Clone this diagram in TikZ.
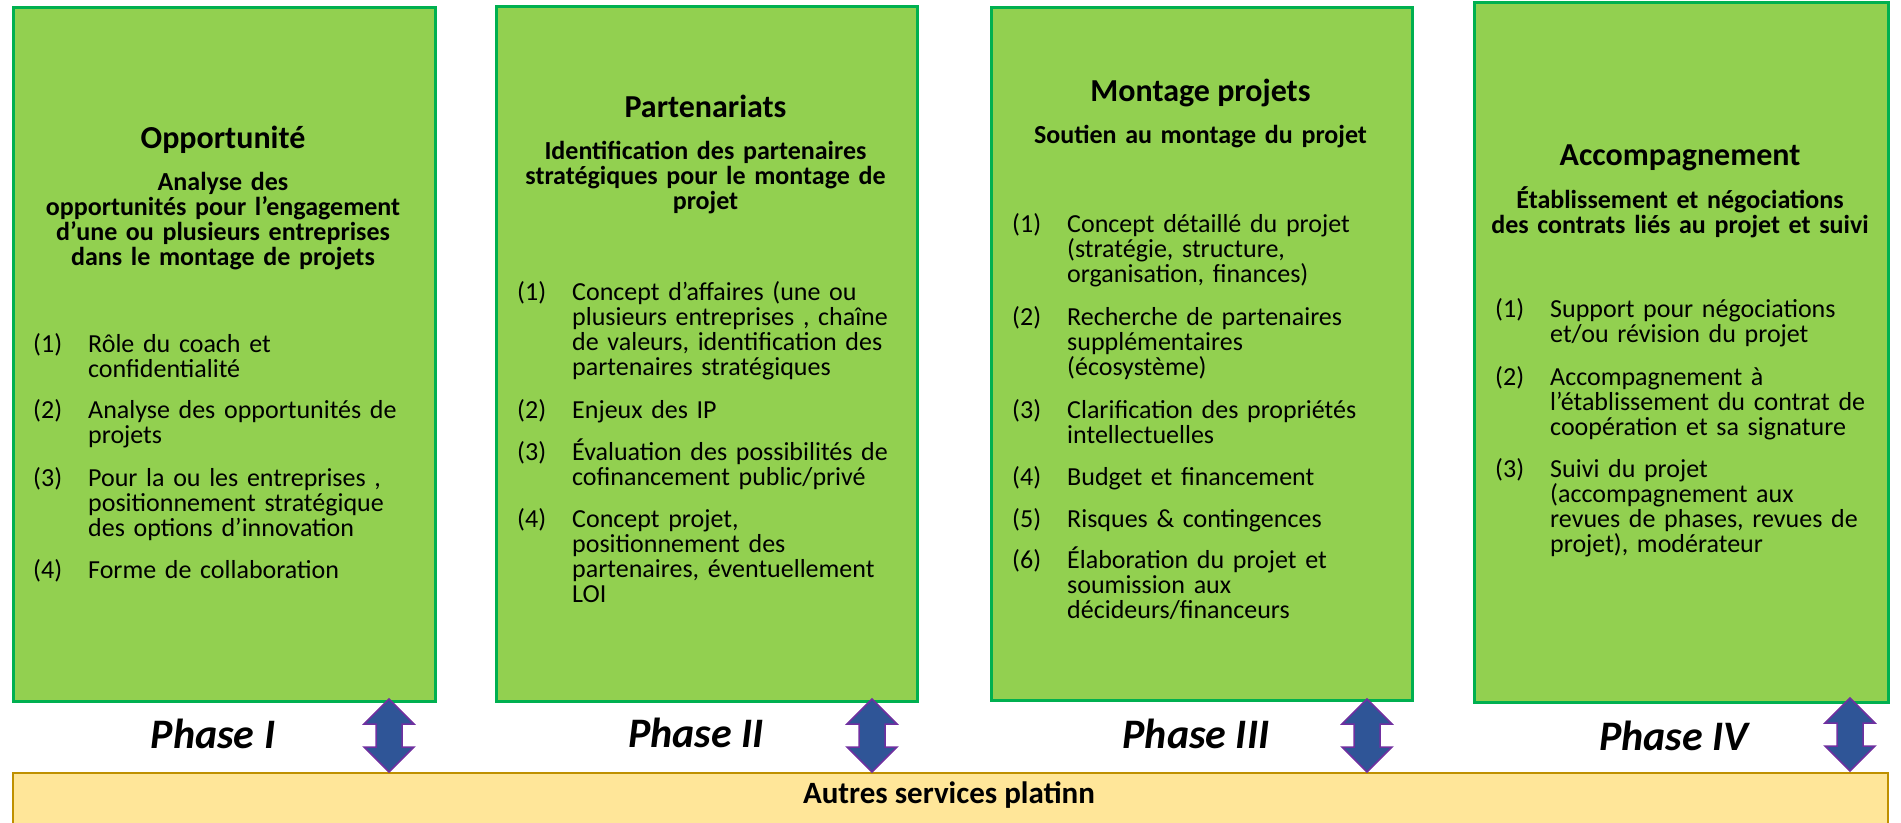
\documentclass[tikz,border=0pt]{standalone}
\usepackage{fontspec}
\setmainfont{Carlito}
\usetikzlibrary{calc}
\definecolor{gfill}{HTML}{92D050}
\definecolor{gline}{HTML}{00B050}
\definecolor{yfill}{HTML}{FFE699}
\definecolor{yline}{HTML}{BF9000}
\definecolor{afill}{HTML}{2F5597}
\definecolor{aline}{HTML}{7030A0}
\tikzset{
  dblarrow/.pic={\draw[blockarrow] (0,-36.5) -- (25,-11.5) -- (13,-11.5) -- (13,11.5) -- (25,11.5) -- (0,36.5) -- (-25,11.5) -- (-13,11.5) -- (-13,-11.5) -- (-25,-11.5) -- cycle;}
}
\begin{document}
\begin{tikzpicture}[x=1pt,y=-1pt,
  greenbox/.style={draw=gline, fill=gfill, line width=2.5pt, inner sep=0pt, anchor=north west},
  ttl/.style={font=\bfseries\fontsize{32}{36}\selectfont, anchor=base, inner sep=0pt},
  subttl/.style={font=\bfseries\fontsize{26}{25.3}\selectfont, anchor=base, inner sep=0pt, align=center, text width=440pt},
  num/.style={font=\fontsize{26}{25.3}\selectfont, anchor=base west, inner sep=0pt},
  itemtxt/.style={font=\fontsize{26}{25.3}\selectfont, anchor=base west, inner sep=0pt, align=left, text width=380pt},
  phase/.style={font=\bfseries\itshape\fontsize{42}{48}\selectfont, anchor=base, inner sep=0pt},
  blockarrow/.style={draw=aline, fill=afill, line width=1.5pt, line join=miter},
  barbox/.style={draw=yline, fill=yfill, line width=1.5pt, inner sep=0pt, anchor=north west},
  bartxt/.style={font=\bfseries\fontsize{31}{36}\selectfont, anchor=base, inner sep=0pt},
]
\useasboundingbox (0,0) rectangle (1901,822);

% boxes
\node[greenbox, minimum width=422pt, minimum height=694pt] (b1) at (12,6) {};
\node[greenbox, minimum width=421pt, minimum height=695pt] (b2) at (495,5) {};
\node[greenbox, minimum width=421pt, minimum height=693pt] (b3) at (990,6) {};
\node[greenbox, minimum width=414pt, minimum height=700pt] (b4) at (1473,1) {};

% bottom bar
\node[barbox, minimum width=1875pt, minimum height=70pt] (bar) at (12,772) {};
\node[bartxt] (bart) at (949,803) {Autres services platinn};

% Box 1
\node[ttl] (t1) at (223,148) {Opportunité};
\node[subttl] (s1) at (223,190) {Analyse des\\opportunités pour l’engagement\\d’une ou plusieurs entreprises\\dans le montage de projets};
\node[num] (n11) at (33,352) {(1)};
\node[itemtxt] (i11) at (88,352) {Rôle du coach et\\confidentialité};
\node[num] (n12) at (33,418) {(2)};
\node[itemtxt] (i12) at (88,418) {Analyse des opportunités de\\projets};
\node[num] (n13) at (33,486) {(3)};
\node[itemtxt] (i13) at (88,486) {Pour la ou les entreprises ,\\positionnement stratégique\\des options d’innovation};
\node[num] (n14) at (33,578) {(4)};
\node[itemtxt] (i14) at (88,578) {Forme de collaboration};

% Box 2
\node[ttl] (t2) at (705.5,117) {Partenariats};
\node[subttl] (s2) at (705.5,159) {Identification des partenaires\\stratégiques pour le montage de\\projet};
\node[num] (n21) at (517,300) {(1)};
\node[itemtxt] (i21) at (572,300) {Concept d’affaires (une ou\\plusieurs entreprises , chaîne\\de valeurs, identification des\\partenaires stratégiques};
\node[num] (n22) at (517,418) {(2)};
\node[itemtxt] (i22) at (572,418) {Enjeux des IP};
\node[num] (n23) at (517,460) {(3)};
\node[itemtxt] (i23) at (572,460) {Évaluation des possibilités de\\cofinancement public/privé};
\node[num] (n24) at (517,527) {(4)};
\node[itemtxt] (i24) at (572,527) {Concept projet,\\positionnement des\\partenaires, éventuellement\\LOI};

% Box 3
\node[ttl] (t3) at (1200.5,101) {Montage projets};
\node[subttl] (s3) at (1200.5,143) {Soutien au montage du projet};
\node[num] (n31) at (1012,232) {(1)};
\node[itemtxt] (i31) at (1067,232) {Concept détaillé du projet\\(stratégie, structure,\\organisation, finances)};
\node[num] (n32) at (1012,325) {(2)};
\node[itemtxt] (i32) at (1067,325) {Recherche de partenaires\\supplémentaires\\(écosystème)};
\node[num] (n33) at (1012,418) {(3)};
\node[itemtxt] (i33) at (1067,418) {Clarification des propriétés\\intellectuelles};
\node[num] (n34) at (1012,485) {(4)};
\node[itemtxt] (i34) at (1067,485) {Budget et financement};
\node[num] (n35) at (1012,527) {(5)};
\node[itemtxt] (i35) at (1067,527) {Risques \& contingences};
\node[num] (n36) at (1012,568) {(6)};
\node[itemtxt] (i36) at (1067,568) {Élaboration du projet et\\soumission aux\\décideurs/financeurs};

% Box 4
\node[ttl] (t4) at (1680,165) {Accompagnement};
\node[subttl] (s4) at (1680,208) {Établissement et négociations\\des contrats liés au projet et suivi};
\node[num] (n41) at (1495,317) {(1)};
\node[itemtxt] (i41) at (1550,317) {Support pour négociations\\et/ou révision du projet};
\node[num] (n42) at (1495,385) {(2)};
\node[itemtxt] (i42) at (1550,385) {Accompagnement à\\l’établissement du contrat de\\coopération et sa signature};
\node[num] (n43) at (1495,477) {(3)};
\node[itemtxt] (i43) at (1550,477) {Suivi du projet\\(accompagnement aux\\revues de phases, revues de\\projet), modérateur};

% phase labels
\node[phase] (p1) at (213,748) {Phase I};
\node[phase] (p2) at (696,747) {Phase II};
\node[phase] (p3) at (1196,748) {Phase III};
\node[phase] (p4) at (1674,750) {Phase IV};

% double arrows between boxes and bar
\coordinate (a1) at (389,735.5);
\coordinate (a2) at (872,735.5);
\coordinate (a3) at (1367,735.5);
\coordinate (a4) at (1850,734.5);
\pic at (a1) {dblarrow};
\pic at (a2) {dblarrow};
\pic at (a3) {dblarrow};
\pic at (a4) {dblarrow};
\end{tikzpicture}
\end{document}
